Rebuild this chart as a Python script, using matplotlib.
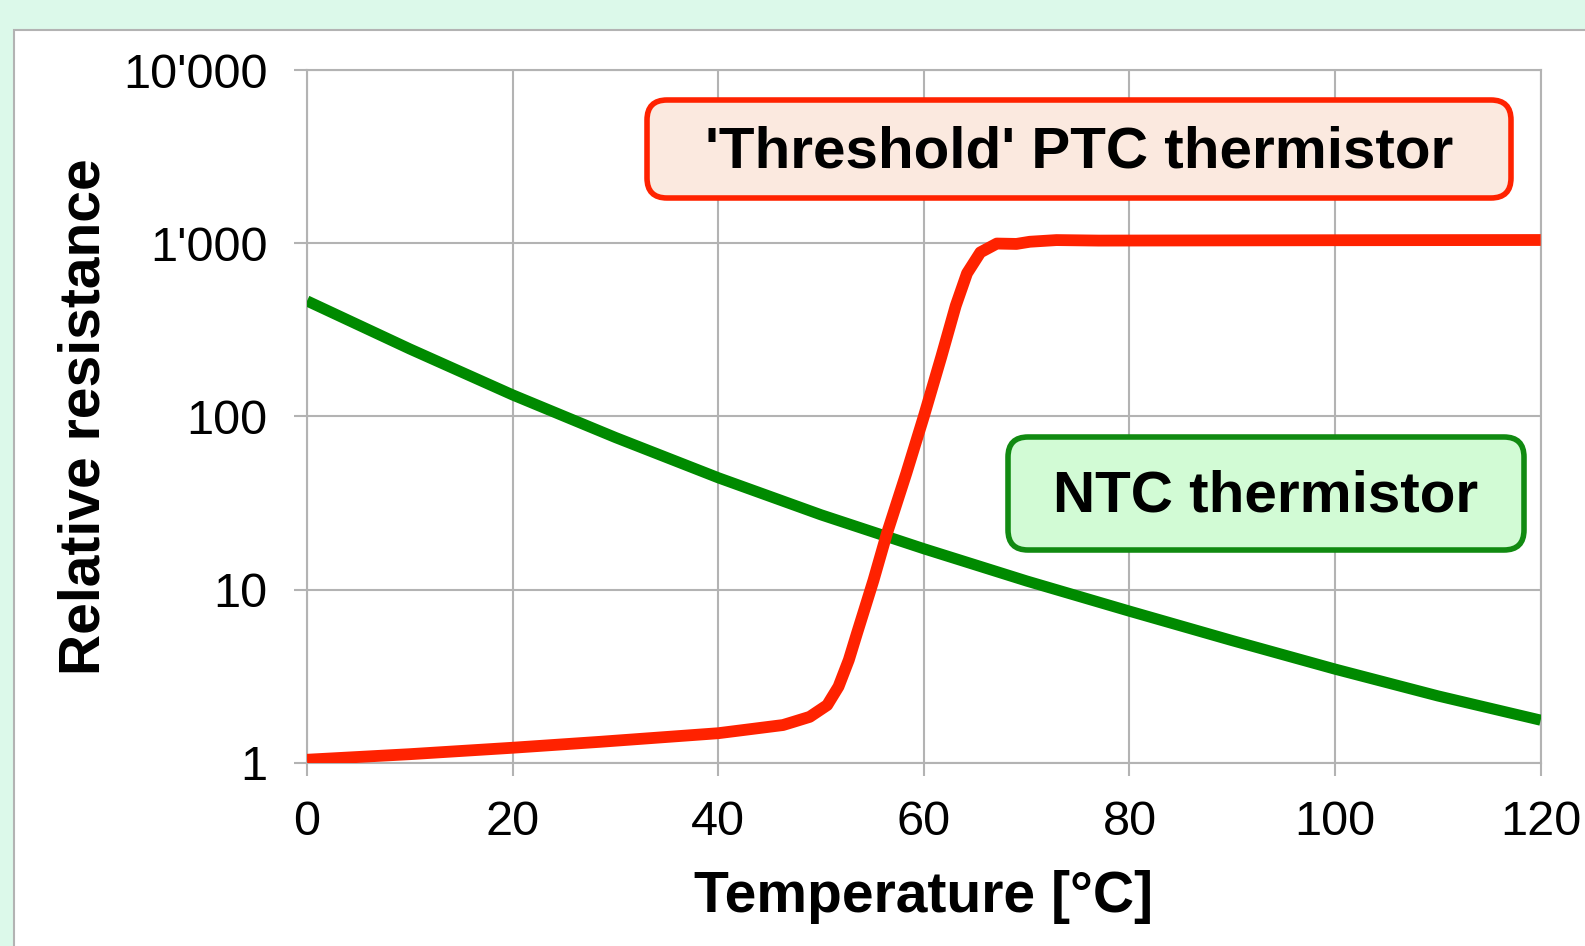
import matplotlib
matplotlib.use("Agg")
import matplotlib.pyplot as plt
from matplotlib.patches import FancyBboxPatch, Rectangle
from matplotlib.ticker import FixedLocator, NullLocator

plt.rcParams['font.family'] = ['Liberation Sans', 'DejaVu Sans']

# PTC ('threshold') thermistor, relative resistance vs temperature
ptc_temp = [0, 10, 20, 28.5, 40, 46.3, 47.3, 48.9, 50.6, 51.7, 52.7, 53.5, 54.3, 55.1, 56.4, 58.3,
            60, 61.7, 63.1, 64.2, 65.5, 67.1, 69, 70.3, 72.9, 77, 100, 120]
ptc_res = [1.04, 1.12, 1.22, 1.32, 1.48, 1.65, 1.72, 1.84, 2.15, 2.75, 3.92, 5.6, 7.95, 11.3, 21, 47,
           100, 221, 435, 670, 885, 995, 990, 1019, 1042, 1035, 1040, 1043]

# NTC thermistor
ntc_temp = [0, 10, 20, 30, 40, 50, 60, 70, 80, 90, 100, 110, 120]
ntc_res = [464, 245, 133, 75.5, 44.2, 27.0, 17.2, 11.2, 7.5, 5.07, 3.47, 2.43, 1.76]

x_ticks = [0, 20, 40, 60, 80, 100, 120]
y_ticks = [1, 10, 100, 1000, 10000]
y_labels = ["1", "10", "100", "1'000", "10'000"]

grid_col = '#b3b3b3'

fig = plt.figure(figsize=(15.85, 9.46), dpi=100)
fig.patch.set_facecolor('#dcf9ea')

# white panel behind the chart
panel = Rectangle((0.14, -0.2), 16, 9.46 - 0.30 + 0.2, transform=fig.dpi_scale_trans,
                  facecolor='white', edgecolor=grid_col, linewidth=1.5, zorder=-5)
fig.patches.append(panel)

ax = fig.add_axes([307 / 1585, 1 - 762.7 / 946, (1540.7 - 307) / 1585, (762.7 - 70) / 946])
ax.set_facecolor('white')

ax.plot(ntc_temp, ntc_res, color='#008a00', linewidth=8, solid_capstyle='butt',
        solid_joinstyle='round', zorder=3)
ax.plot(ptc_temp, ptc_res, color='#ff2200', linewidth=8.5, solid_capstyle='butt',
        solid_joinstyle='round', zorder=4)

ax.set_yscale('log')
ax.set_xlim(0, 120)
ax.set_ylim(1, 10000)
ax.xaxis.set_major_locator(FixedLocator(x_ticks))
ax.yaxis.set_major_locator(FixedLocator(y_ticks))
ax.yaxis.set_minor_locator(NullLocator())
ax.set_yticklabels(y_labels)
ax.grid(True, color=grid_col, linewidth=1.5)
for s in ax.spines.values():
    s.set_color(grid_col)
    s.set_linewidth(1.5)
ax.tick_params(axis='both', length=9.5, width=1.5, color=grid_col, labelsize=35)
ax.tick_params(axis='y', pad=19)
ax.tick_params(axis='x', pad=17)

ax.set_xlabel('Temperature [°C]', fontsize=41, fontweight='bold', labelpad=18)
ax.set_ylabel('Relative resistance', fontsize=41, fontweight='bold', labelpad=8)

# annotation boxes
def label_box(x0, y0, x1, y1, text, face, edge):
    box = FancyBboxPatch((x0 / 100, (946 - y1) / 100), (x1 - x0) / 100, (y1 - y0) / 100,
                         boxstyle='round,pad=0,rounding_size=0.2', transform=fig.dpi_scale_trans,
                         facecolor=face, edgecolor=edge, linewidth=4, zorder=5)
    fig.patches.append(box)
    fig.text((x0 + x1) / 2 / 1585, 1 - ((y0 + y1) / 2 + 3) / 946, text, ha='center', va='center',
             fontsize=42, fontweight='bold', zorder=6)

label_box(647, 100, 1511, 198, "'Threshold' PTC thermistor", '#fbe9df', '#ff2200')
label_box(1008, 437, 1524, 550, 'NTC thermistor', '#d2fbd5', '#118a11')

fig.savefig('out.png', dpi=100, facecolor=fig.get_facecolor())
